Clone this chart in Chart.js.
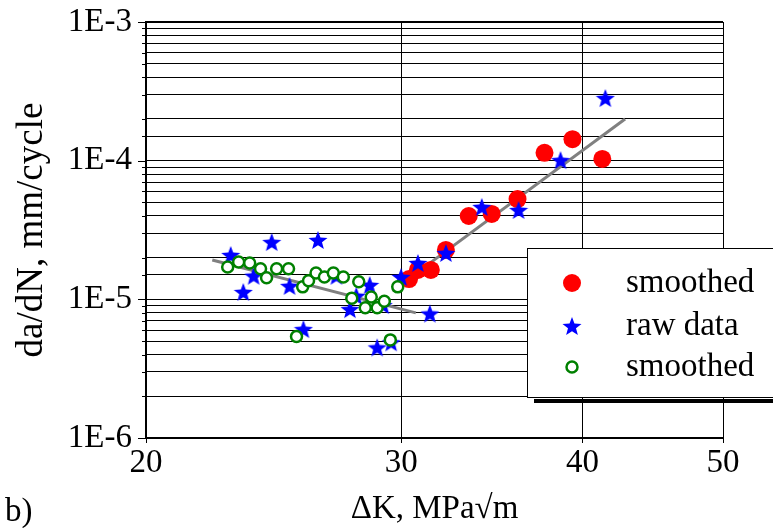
<!DOCTYPE html>
<html><head><meta charset="utf-8">
<script src="https://cdn.jsdelivr.net/npm/chart.js@4/dist/chart.umd.min.js"></script>
<style>html,body{margin:0;padding:0;background:#fff;}#wrap{position:relative;width:773px;height:528px;}</style>
</head><body><div id="wrap"><canvas id="c" width="773" height="528"></canvas></div>
<script>
// ---- data ----
const smoothedX = [30.37, 30.80, 31.44, 32.20, 33.39, 34.63, 36.08, 37.66, 39.37, 41.28];
const smoothedY = [1.40e-5, 1.63e-5, 1.63e-5, 2.27e-5, 3.99e-5, 4.13e-5, 5.29e-5, 1.14e-4, 1.43e-4, 1.03e-4];
const rawX = [22.88, 23.34, 23.73, 24.42, 25.12, 26.28, 27.06, 27.65, 27.93, 28.53, 29.15, 25.68, 28.87, 29.52, 29.99, 30.80, 31.39, 32.20, 34.09, 36.14, 38.63, 41.48];
const rawY = [2.09e-5, 1.13e-5, 1.48e-5, 2.59e-5, 1.25e-5, 2.68e-5, 1.48e-5, 8.5e-6, 1.06e-5, 1.27e-5, 9.1e-6, 6.1e-6, 4.5e-6, 4.9e-6, 1.45e-5, 1.83e-5, 7.9e-6, 2.16e-5, 4.64e-5, 4.41e-5, 1.01e-4, 2.83e-4];
const smoothedLowX = [22.77, 23.17, 23.58, 23.99, 24.22, 24.61, 25.08, 25.65, 25.89, 26.20, 26.55, 26.93, 27.36, 28.04, 27.73, 28.33, 28.60, 28.87, 29.20, 29.83, 25.40, 29.48];
const smoothedLowY = [1.71e-5, 1.86e-5, 1.83e-5, 1.66e-5, 1.43e-5, 1.66e-5, 1.66e-5, 1.23e-5, 1.36e-5, 1.55e-5, 1.45e-5, 1.55e-5, 1.45e-5, 1.34e-5, 1.02e-5, 8.7e-6, 1.04e-5, 8.7e-6, 9.7e-6, 1.23e-5, 5.4e-6, 5.1e-6];
const fitLowX = [22.22, 30.70];
const fitLowY = [1.92e-5, 7.98e-6];
const fitHighX = [29.57, 42.8];
const fitHighY = [1.15e-5, 2.0e-4];
const xTickValues = [20, 30, 40, 50];
const xRange = [20, 50];
const yRange = [1e-6, 1e-3];
const legendLabels = ['smoothed', 'raw data', 'smoothed'];
const xTitle = 'ΔK, MPa√m';
const yTitle = 'da/dN, mm/cycle';
const panelLabel = 'b)';

const FONT = "'Liberation Serif', 'Times New Roman', serif";
const pts = (xs, ys) => xs.map((x, i) => ({x, y: ys[i]}));
const isMajor = v => Math.abs(Math.log10(v) - Math.round(Math.log10(v))) < 1e-6;

function makeStar(size, color) {
  const c = document.createElement('canvas');
  c.width = c.height = size;
  const g = c.getContext('2d');
  g.fillStyle = color;
  g.beginPath();
  const cx = size / 2, cy = size / 2 + size * 0.05, R = size / 2, r = R * 0.42;
  for (let i = 0; i < 10; i++) {
    const a = -Math.PI / 2 + i * Math.PI / 5;
    const rr = i % 2 ? r : R;
    g.lineTo(cx + rr * Math.cos(a), cy + rr * Math.sin(a));
  }
  g.closePath();
  g.fill();
  return c;
}
const starImg = makeStar(20, '#0000ff');

const extras = {
  id: 'extras',
  afterDraw(chart) {
    const {ctx, scales: {x, y}, chartArea: a} = chart;
    ctx.save();
    ctx.strokeStyle = '#000';
    ctx.lineWidth = 1;
    y.ticks.forEach(t => {
      const py = Math.round(y.getPixelForValue(t.value)) + 0.5;
      ctx.beginPath();
      ctx.moveTo(a.left - (isMajor(t.value) ? 8 : 4), py);
      ctx.lineTo(a.left, py);
      ctx.stroke();
    });
    x.ticks.forEach(t => {
      const px = Math.round(x.getPixelForValue(t.value)) + 0.5;
      ctx.beginPath();
      ctx.moveTo(px, a.bottom);
      ctx.lineTo(px, a.bottom + 5);
      ctx.stroke();
    });
    // legend
    const lx = 527, ly = 248, lw = 260, lh = 149;
    ctx.fillStyle = '#000';
    ctx.fillRect(lx + 7, ly + lh + 2, 773 - lx - 7, 4);
    ctx.fillStyle = '#fff';
    ctx.fillRect(lx, ly, lw, lh);
    ctx.strokeStyle = '#000';
    ctx.lineWidth = 1;
    ctx.strokeRect(lx + 0.5, ly + 0.5, lw, lh);
    const rows = [283, 326, 367];
    const mx = 572;
    const ds = chart.data.datasets;
    ctx.fillStyle = ds[0].backgroundColor;
    ctx.beginPath(); ctx.arc(mx, rows[0], 9, 0, Math.PI * 2); ctx.fill();
    ctx.drawImage(starImg, mx - 10, rows[1] - 10);
    ctx.strokeStyle = ds[2].borderColor;
    ctx.lineWidth = 2.5;
    ctx.fillStyle = '#fff';
    ctx.beginPath(); ctx.arc(mx, rows[2], 5.5, 0, Math.PI * 2); ctx.fill(); ctx.stroke();
    ctx.fillStyle = '#000';
    ctx.font = '33px ' + FONT;
    ctx.textBaseline = 'middle';
    ctx.textAlign = 'left';
    legendLabels.forEach((l, i) => ctx.fillText(l, 626, rows[i]));
    ctx.fillText(panelLabel, 5, 512);
    ctx.restore();
  }
};

new Chart(document.getElementById('c'), {
  type: 'scatter',
  data: {
    datasets: [
      {label: legendLabels[0], data: pts(smoothedX, smoothedY), backgroundColor: '#ff0000', borderColor: '#ff0000', pointRadius: 9, pointBorderWidth: 0, order: 3},
      {label: legendLabels[1], data: pts(rawX, rawY), pointStyle: starImg, backgroundColor: '#0000ff', borderColor: '#0000ff', order: 2},
      {label: legendLabels[2], data: pts(smoothedLowX, smoothedLowY), backgroundColor: '#ffffff', borderColor: '#008000', pointRadius: 5.5, pointBorderWidth: 2.5, order: 1},
      {label: 'fitLow', data: pts(fitLowX, fitLowY), showLine: true, pointRadius: 0, borderColor: '#808080', borderWidth: 3, order: 5},
      {label: 'fitHigh', data: pts(fitHighX, fitHighY), showLine: true, pointRadius: 0, borderColor: '#808080', borderWidth: 3, order: 5}
    ]
  },
  options: {
    responsive: false,
    animation: false,
    devicePixelRatio: 1,
    layout: {padding: {left: 0, right: 50, top: 22, bottom: 0}},
    plugins: {legend: {display: false}, tooltip: {enabled: false}},
    scales: {
      x: {
        type: 'logarithmic', min: xRange[0], max: xRange[1],
        afterBuildTicks: s => { s.ticks = xTickValues.map(v => ({value: v})); },
        afterFit: s => { s.height = 90; s.paddingLeft = 0; s.paddingRight = 0; },
        grid: {color: '#000', lineWidth: 1, drawTicks: false},
        border: {display: false},
        ticks: {color: '#000', font: {family: FONT, size: 33}, padding: 6, maxRotation: 0, callback: v => String(v)},
        title: {display: true, text: xTitle, color: '#000', font: {family: FONT, size: 33, lineHeight: 1.15}, padding: {top: 0, bottom: 0}}
      },
      y: {
        type: 'logarithmic', min: yRange[0], max: yRange[1],
        afterFit: s => { s.width = 146; s.paddingTop = 0; s.paddingBottom = 0; },
        grid: {color: '#000', lineWidth: c => (c.tick && isMajor(c.tick.value) && (c.index === 0 || c.tick.value >= yRange[1] * 0.999)) ? 2 : 1, drawTicks: false},
        border: {display: true, color: '#000', width: 2},
        ticks: {color: '#000', font: {family: FONT, size: 33}, padding: 14, autoSkip: false,
          callback: v => isMajor(v) ? '1E' + Math.round(Math.log10(v)) : ''},
        title: {display: true, text: yTitle, color: '#000', font: {family: FONT, size: 37, lineHeight: 1.15}, padding: {top: 11, bottom: 0}}
      }
    }
  },
  plugins: [extras]
});
</script>
</body></html>
